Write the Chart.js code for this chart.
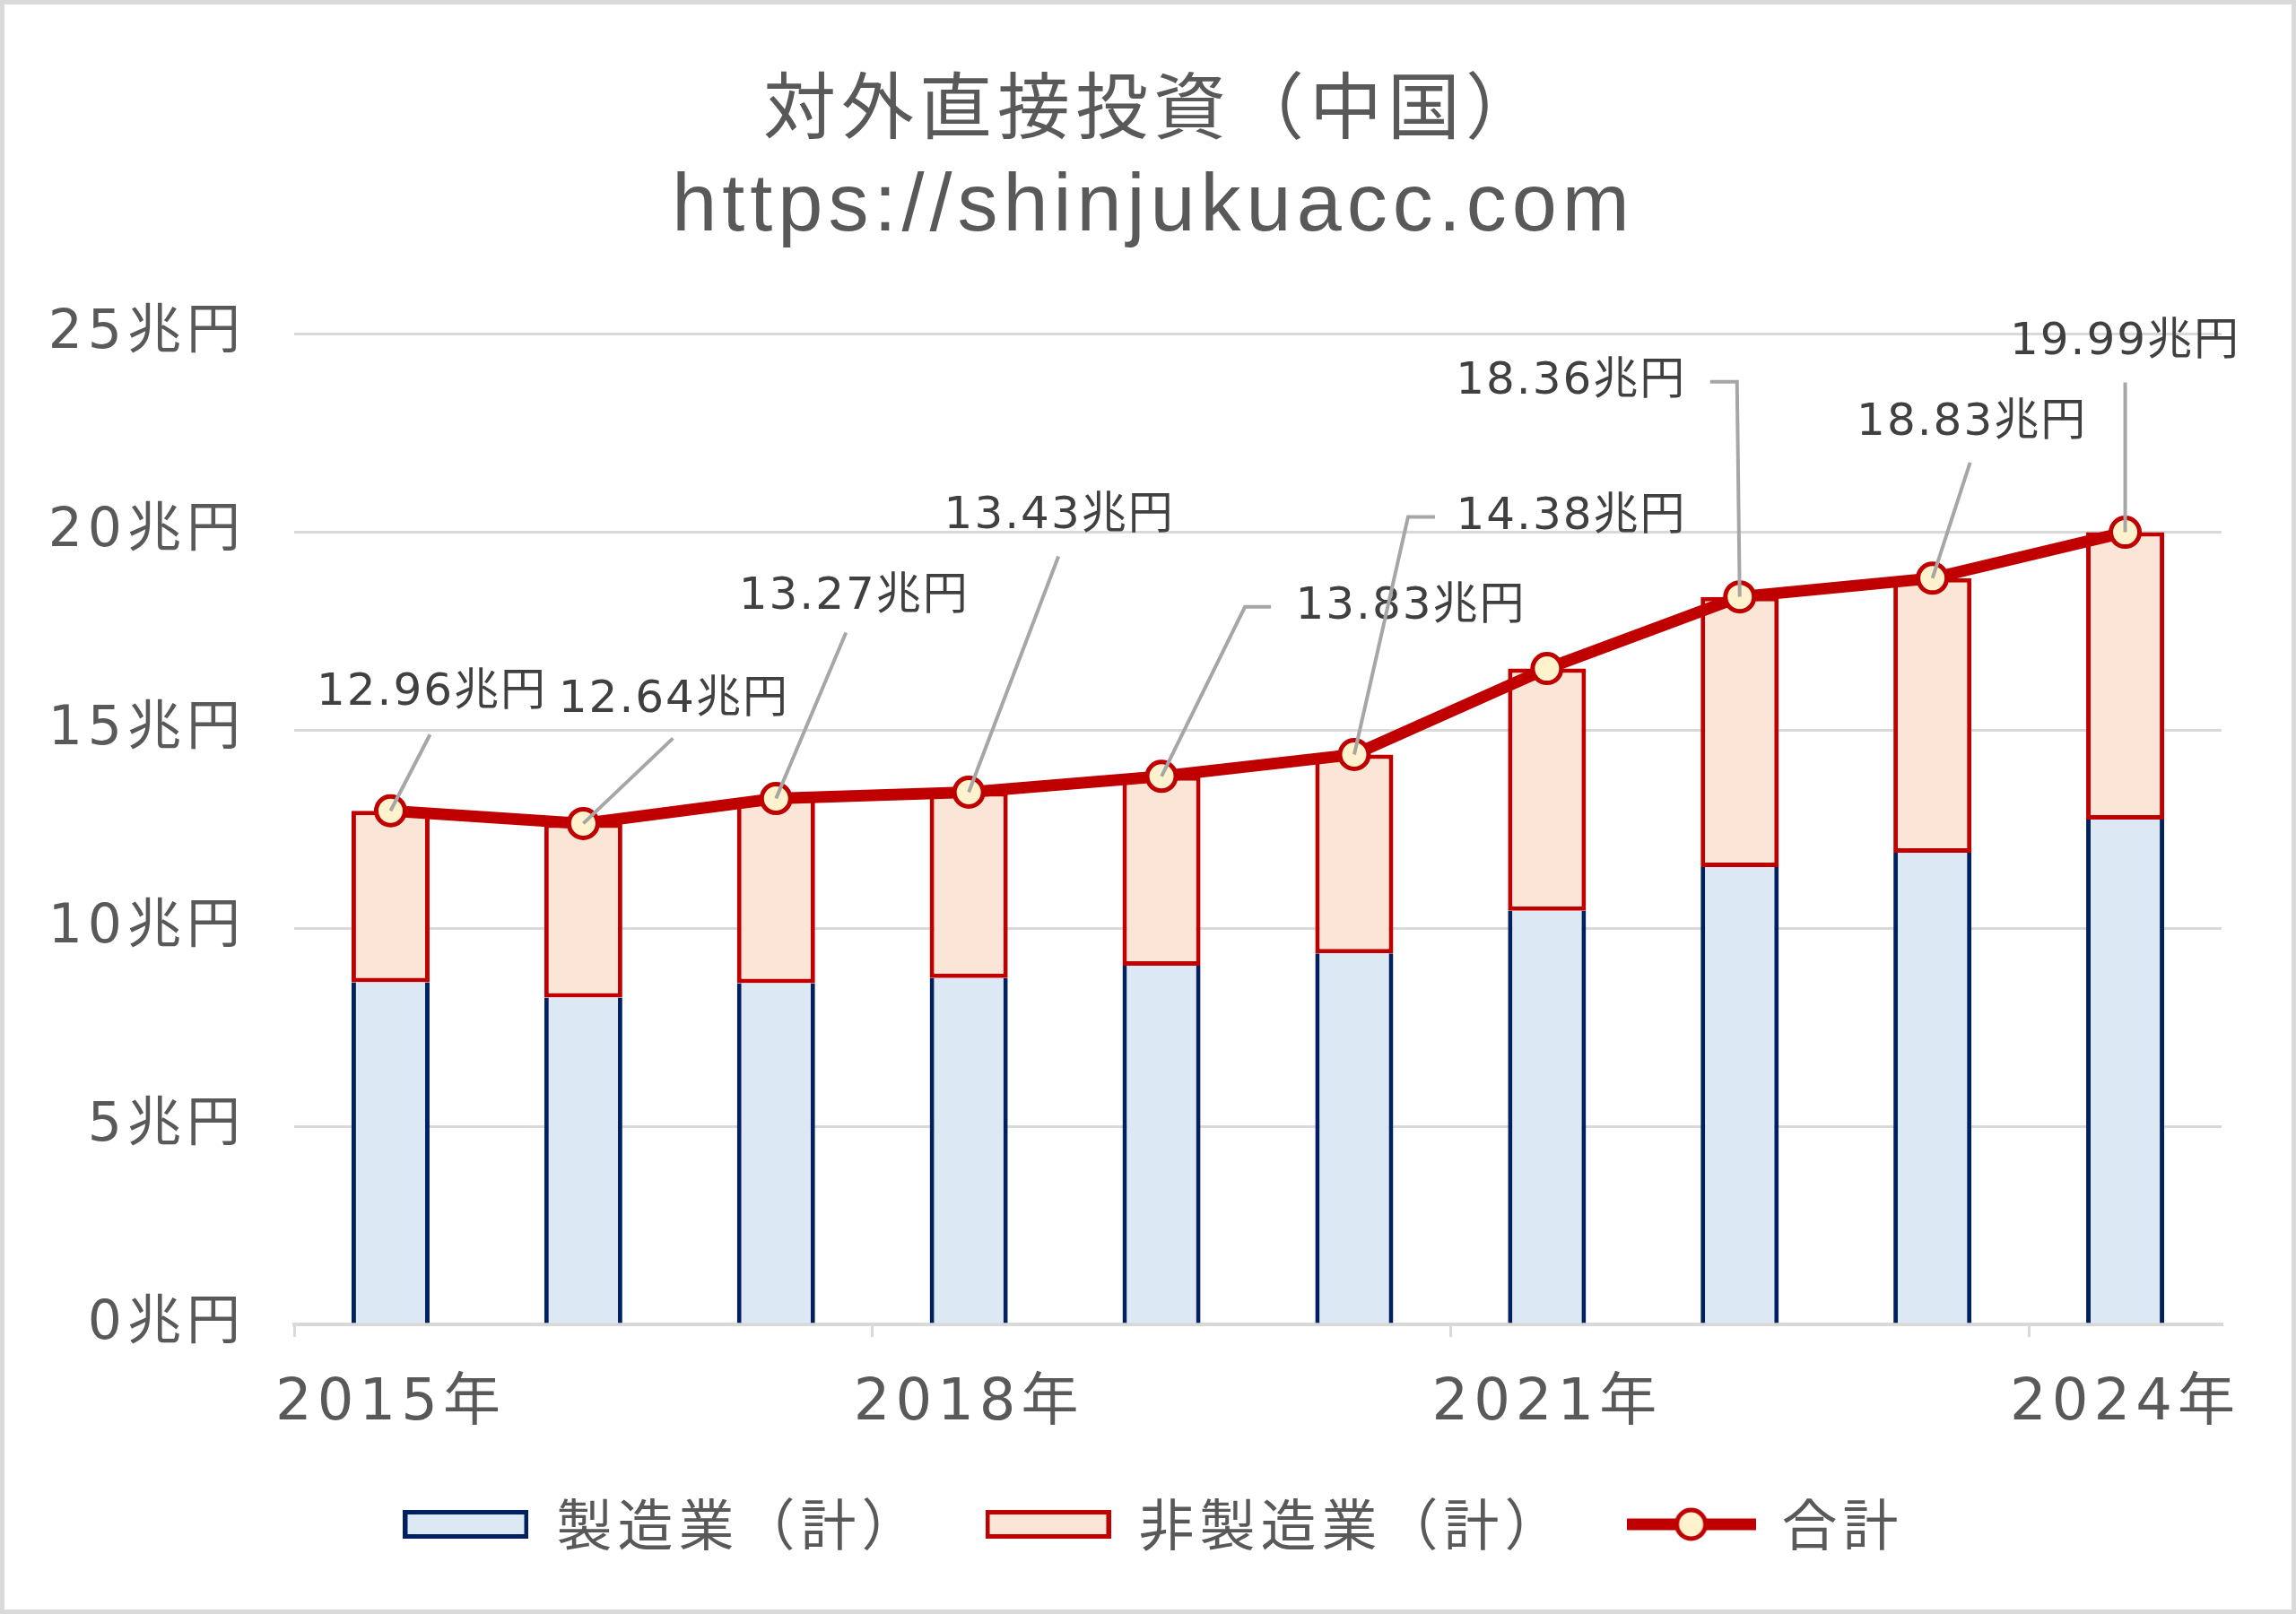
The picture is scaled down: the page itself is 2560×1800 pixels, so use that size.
<!DOCTYPE html>
<html lang="ja">
<head>
<meta charset="utf-8">
<title>対外直接投資（中国）</title>
<script src="https://cdn.jsdelivr.net/npm/chart.js@4.4.1/dist/chart.umd.min.js"></script>
<style>
  html, body { margin: 0; padding: 0; background: #fff; }
  #frame { width: 2560px; height: 1800px; box-sizing: border-box; border: 5px solid #d9d9d9; background: #fff; }
  canvas { display: block; }
</style>
</head>
<body>
<div id="frame"><canvas id="fdiChart" width="2550" height="1790"></canvas></div>
<script>
// データ（兆円）
const years = ['2015年', '2016年', '2017年', '2018年', '2019年', '2020年', '2021年', '2022年', '2023年', '2024年'];
const manufacturing = [8.63, 8.25, 8.61, 8.74, 9.05, 9.36, 10.44, 11.54, 11.90, 12.74];
const nonManufacturing = [4.33, 4.39, 4.66, 4.69, 4.78, 5.02, 6.11, 6.82, 6.93, 7.25];
const totals = [12.96, 12.64, 13.27, 13.43, 13.83, 14.38, 16.55, 18.36, 18.83, 19.99];

const seriesNames = ['製造業（計）', '非製造業（計）', '合計'];

// 合計ラベルの位置（点からのずれ, px）と引き出し線
const labelLayout = [
    { dx: 46, dy: -131, leader: [[44, -85]] },
    { dx: 101, dy: -137, leader: [[100, -95]] },
    { dx: 87, dy: -225, leader: [[78, -185]] },
    { dx: 101, dy: -307, leader: [[100, -263]] },
    { dx: 278, dy: -189, leader: [[93, -189], [122, -189]] },
    { dx: 242, dy: -265, leader: [[60, -265], [90, -265]] },
    null,
    { dx: -188, dy: -240, leader: [[-3, -240], [-33, -240]] },
    { dx: 44, dy: -173, leader: [[42, -129]] },
    { dx: 0, dy: -212, leader: [[0, -167]] }
];

const FONT = '"DejaVu Sans", "Noto Sans CJK JP", sans-serif';
const CJK = '"Noto Sans CJK JP", sans-serif';
const TEXT_GREY = '#595959';
const RED = '#c00000';

// 凡例アイコン
function makeBoxIcon(fill, stroke) {
    const c = document.createElement('canvas');
    c.width = 140; c.height = 32;
    const g = c.getContext('2d');
    g.fillStyle = fill;
    g.fillRect(0, 0, 140, 32);
    g.strokeStyle = stroke;
    g.lineWidth = 5;
    g.strokeRect(2.5, 2.5, 135, 27);
    return c;
}

function makeLineIcon() {
    const c = document.createElement('canvas');
    c.width = 144; c.height = 44;
    const g = c.getContext('2d');
    g.strokeStyle = RED;
    g.lineWidth = 13;
    g.beginPath();
    g.moveTo(0, 22); g.lineTo(144, 22);
    g.stroke();
    g.beginPath();
    g.arc(72, 22, 16, 0, Math.PI * 2);
    g.fillStyle = '#fff2cc';
    g.fill();
    g.lineWidth = 5;
    g.stroke();
    return c;
}

const legendIcons = [makeBoxIcon('#dde8f5', '#002060'), makeBoxIcon('#fbe5d6', RED), makeLineIcon()];

// 文字間隔
const spacingPlugin = {
    id: 'spacing',
    beforeLayout(chart) { chart.ctx.letterSpacing = '6px'; },
    beforeDraw(chart) { chart.ctx.letterSpacing = '6px'; }
};

const totalLabelsPlugin = {
    id: 'totalLabels',
    afterDatasetsDraw(chart) {
        const meta = chart.getDatasetMeta(2);
        const ctx = chart.ctx;
        ctx.save();
        ctx.letterSpacing = '2px';
        ctx.font = '50px ' + FONT;
        ctx.fillStyle = '#404040';
        ctx.textAlign = 'center';
        ctx.textBaseline = 'middle';
        meta.data.forEach((pt, i) => {
            const lay = labelLayout[i];
            if (!lay) return;
            ctx.beginPath();
            ctx.moveTo(pt.x, pt.y);
            lay.leader.forEach(([dx, dy]) => ctx.lineTo(pt.x + dx, pt.y + dy));
            ctx.strokeStyle = '#a6a6a6';
            ctx.lineWidth = 4;
            ctx.stroke();
            ctx.fillText(totals[i].toFixed(2) + '兆円', pt.x + lay.dx, pt.y + lay.dy);
        });
        ctx.restore();
    }
};

const ctx = document.getElementById('fdiChart').getContext('2d');
const fdiChart = new Chart(ctx, {
    data: {
        labels: years,
        datasets: [
            {
                type: 'bar',
                label: seriesNames[0],
                data: manufacturing,
                backgroundColor: '#dde8f5',
                borderColor: '#002060',
                borderWidth: { left: 5, right: 5, top: 0, bottom: 0 },
                borderSkipped: false,
                stack: 'sector',
                order: 1
            },
            {
                type: 'bar',
                label: seriesNames[1],
                data: nonManufacturing,
                backgroundColor: '#fbe5d6',
                borderColor: RED,
                borderWidth: 5,
                borderSkipped: false,
                stack: 'sector',
                order: 1
            },
            {
                type: 'line',
                label: seriesNames[2],
                data: totals,
                borderColor: RED,
                borderWidth: 13,
                pointRadius: 16,
                pointBorderWidth: 5,
                pointBackgroundColor: '#fff2cc',
                pointBorderColor: RED,
                tension: 0,
                stack: 'total',
                order: 0
            }
        ]
    },
    options: {
        responsive: false,
        animation: false,
        devicePixelRatio: 1,
        layout: { padding: { left: 45, right: 33, top: 0, bottom: 54 } },
        datasets: {
            bar: { barPercentage: 0.405, categoryPercentage: 1 }
        },
        plugins: {
            tooltip: { enabled: false },
            title: {
                display: true,
                text: '対外直接投資（中国）',
                color: TEXT_GREY,
                font: { family: CJK, size: 81, weight: 'normal' },
                padding: { top: 64, bottom: 10 }
            },
            subtitle: {
                display: true,
                text: 'https://shinjukuacc.com',
                color: TEXT_GREY,
                font: { family: '"Liberation Sans", sans-serif', size: 90, weight: 'normal' },
                padding: { top: 2, bottom: 86 }
            },
            legend: {
                position: 'bottom',
                labels: {
                    usePointStyle: true,
                    pointStyleWidth: 140,
                    padding: 70,
                    color: TEXT_GREY,
                    font: { family: CJK, size: 62 },
                    generateLabels: (chart) => seriesNames.map((name, i) => ({
                        text: name,
                        pointStyle: legendIcons[i],
                        fontColor: TEXT_GREY,
                        datasetIndex: i,
                        hidden: false,
                        lineWidth: 0
                    }))
                }
            }
        },
        scales: {
            x: {
                stacked: true,
                offset: true,
                grid: {
                    offset: true,
                    drawOnChartArea: false,
                    tickLength: 14,
                    lineWidth: 3,
                    color: (c) => (c.index % 3 === 0 ? '#d9d9d9' : 'rgba(0,0,0,0)')
                },
                border: { display: true, color: '#d9d9d9', width: 4 },
                ticks: {
                    autoSkip: false,
                    maxRotation: 0,
                    padding: 37,
                    color: TEXT_GREY,
                    font: { family: FONT, size: 64 },
                    callback: (val, i) => (i % 3 === 0 ? years[i] : '')
                },
                afterFit: (scale) => { scale.height = 122; }
            },
            y: {
                stacked: true,
                min: 0,
                max: 25,
                grid: { color: '#d9d9d9', lineWidth: 3, drawTicks: false },
                border: { display: false },
                ticks: {
                    stepSize: 5,
                    padding: 54,
                    color: TEXT_GREY,
                    font: { family: FONT, size: 60 },
                    callback: (v) => v + '兆円'
                },
                afterFit: (scale) => { scale.width = 278; }
            },
            // 右側の余白用（表示なし）
            yRight: {
                position: 'right',
                display: true,
                grid: { display: false, drawTicks: false },
                border: { display: false },
                ticks: { display: false },
                afterFit: (scale) => { scale.width = 45; }
            }
        }
    },
    plugins: [spacingPlugin, totalLabelsPlugin]
});
</script>
</body>
</html>
